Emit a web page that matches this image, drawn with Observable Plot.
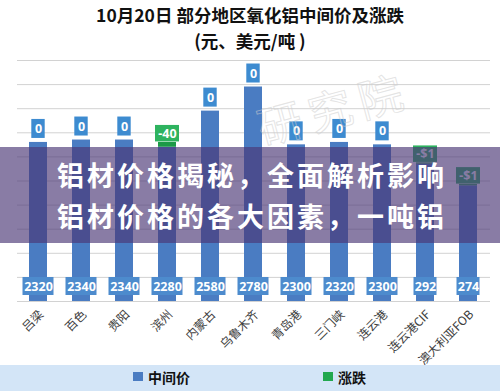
<!DOCTYPE html>
<html><head><meta charset="utf-8">
<script src="https://cdn.jsdelivr.net/npm/d3@7"></script>
<script src="https://cdn.jsdelivr.net/npm/@observablehq/plot@0.6"></script>
<style>
body{margin:0;width:500px;height:391px;overflow:hidden;background:#fff;position:relative;font-family:"Noto Sans CJK SC","Noto Sans",sans-serif}
#chart{position:absolute;left:0;top:0}
.title{position:absolute;left:0;width:500px;text-align:center;font-weight:bold;color:#111;font-size:17.5px;line-height:20px}
#legend{position:absolute;left:0;top:365px;width:500px;height:26px;background:#d3e5f7}
.sw{position:absolute;width:10px;height:9px}
.lt{position:absolute;font-weight:bold;font-size:14px;line-height:18px;color:#111}
#wm{position:absolute;left:258px;top:101px;font-size:44px;line-height:52px;letter-spacing:8px;color:transparent;-webkit-text-stroke:1px rgba(205,205,205,0.55);transform-origin:0 50%;transform:rotate(-15deg);white-space:nowrap}
#banner{position:absolute;left:0;top:147px;width:500px;height:96px;background:rgba(74,54,116,0.65)}
#banner div{position:absolute;left:57px;color:#fff;font-weight:bold;font-size:27px;letter-spacing:3px;line-height:32px;white-space:nowrap}
</style></head><body>
<div id="chart"></div>
<div class="title" style="top:5px">10月20日 部分地区氧化铝中间价及涨跌</div>
<div class="title" style="top:31px">(元、美元/吨 )</div>
<div id="legend">
  <div class="sw" style="left:133px;top:7px;background:#4a7cc2"></div>
  <div class="lt" style="left:148px;top:3px">中间价</div>
  <div class="sw" style="left:323px;top:7px;background:#22a84f"></div>
  <div class="lt" style="left:338px;top:3px">涨跌</div>
</div>
<script>
const regions = ["吕梁","百色","贵阳","滨州","内蒙古","乌鲁木齐","青岛港","三门峡","连云港","连云港CIF","澳大利亚FOB"];
const prices = [2320,2340,2340,2280,2580,2780,2300,2320,2300,292,274];
const changes = [0,0,0,-40,0,0,0,0,0,-1,-1];
const changeLabels = ["0","0","0","-40","0","0","0","0","0","-$1","-$1"];
const currencies = ["元","元","元","元","元","元","元","元","元","美元","美元"];
const gridTicks = [1000,1200,1400,1600,1800,2000,2200,2400,2600,2800,3000];

// secondary (USD) axis mapped onto the primary axis: 178..378 -> 1000..3000
const toPrimary = v => 1000 + (v - 178) * 10;
const rows = regions.map((r, i) => {
  const usd = currencies[i] === "美元";
  const top = usd ? toPrimary(prices[i]) : prices[i];
  const seg = usd ? Math.abs(changes[i]) * 10 : Math.abs(changes[i]);
  return {region: r, price: prices[i], top, gTop: top + seg, chg: changeLabels[i], neg: changes[i] !== 0, usd};
});

const font = '"Noto Sans","Noto Sans CJK SC",sans-serif';
const chart = Plot.plot({
  width: 500, height: 391,
  marginTop: 60, marginBottom: 90, marginLeft: 17, marginRight: 10,
  style: {background: "transparent", fontFamily: font},
  x: {type: "band", domain: regions, paddingInner: 0.58, paddingOuter: 0.29, axis: null},
  y: {domain: [1000, 3000], axis: null},
  marks: [
    Plot.ruleY(gridTicks, {stroke: "#d2d2d2", strokeWidth: 1}),
    Plot.barY(rows, {x: "region", y1: 1000, y2: "top", fill: "#4a7cc2"}),
    Plot.barY(rows.filter(d => d.neg), {x: "region", y1: "top", y2: "gTop", fill: "#1c9a47"}),
    // top change label boxes
    Plot.barY(rows.filter(d => !d.neg), {x: "region", y1: "gTop", y2: "gTop", insetTop: -23, insetBottom: 4, insetLeft: 2.3, insetRight: 2.3, fill: "#3d8bd0"}),
    Plot.barY(rows.filter(d => d.neg), {x: "region", y1: "gTop", y2: "gTop", insetTop: -17, insetBottom: 0.5, insetLeft: -3, insetRight: -3, fill: "#2eb35f"}),
    Plot.text(rows.filter(d => !d.neg), {x: "region", y: "gTop", text: "chg", dy: -13.5, fill: "white", fontWeight: "bold", fontSize: 12.5}),
    Plot.text(rows.filter(d => d.neg), {x: "region", y: "gTop", text: "chg", dy: -8.5, fill: "white", fontWeight: "bold", fontSize: 12.5}),
    // bottom value label boxes
    Plot.barY(rows.filter(d => !d.usd), {x: "region", y1: 1000, y2: 1000, insetTop: -24, insetBottom: 6, insetLeft: -6.5, insetRight: -6.5, fill: "#4d8bcd"}),
    Plot.barY(rows.filter(d => d.usd), {x: "region", y1: 1000, y2: 1000, insetTop: -24, insetBottom: 6, insetLeft: -2.5, insetRight: -2.5, fill: "#4d8bcd"}),
    Plot.text(rows, {x: "region", y: 1000, text: d => String(d.price), dy: -15, fill: "white", fontWeight: "bold", fontSize: 12.5}),
    // category labels
    Plot.text(rows, {x: "region", text: "region", frameAnchor: "bottom", dy: 11, dx: 3, rotate: -45, textAnchor: "end", lineAnchor: "middle", fontSize: 12, fill: "#404040", fontFamily: '"Noto Sans CJK SC",sans-serif'})
  ]
});
document.getElementById("chart").appendChild(chart);
</script>
<div id="wm">研究院</div>
<div id="banner">
  <div style="top:12px">铝材价格揭秘，全面解析影响</div>
  <div style="top:53px">铝材价格的各大因素，一吨铝</div>
</div>
</body></html>
